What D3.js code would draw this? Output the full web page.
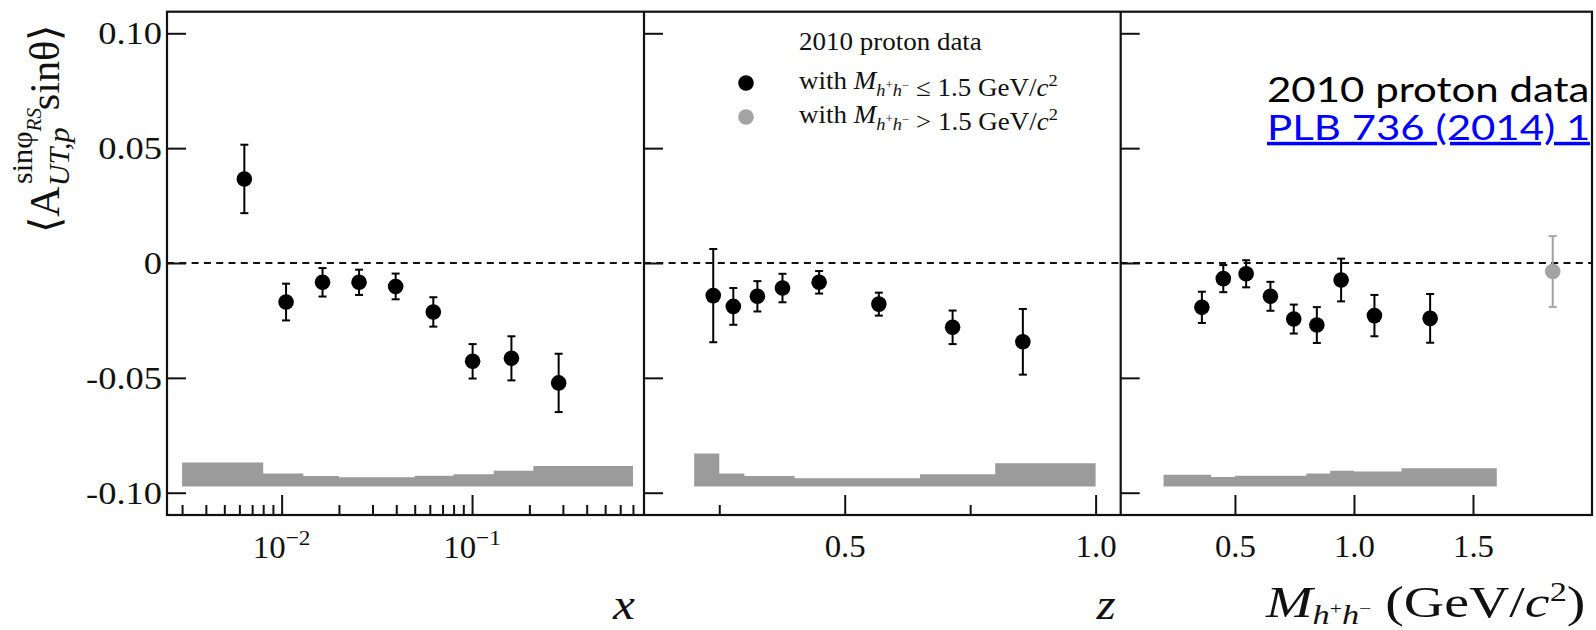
<!DOCTYPE html>
<html><head><meta charset="utf-8">
<script src="https://cdn.jsdelivr.net/npm/d3@7"></script>
<style>
html,body{margin:0;padding:0;background:#fff;}
svg{display:block;}
</style></head>
<body>
<script>
// ---------------- DATA ----------------
// Panel 1: x-binning
const xBinCenters = [0.00637, 0.01055, 0.0164, 0.0255, 0.0397, 0.0626, 0.1007, 0.161, 0.285];
const xAsym       = [0.0366, -0.0170, -0.0084, -0.0084, -0.0102, -0.0213, -0.0428, -0.0415, -0.0522];
const xStatErr    = [0.0149, 0.0080, 0.0062, 0.0055, 0.0056, 0.0064, 0.0075, 0.0096, 0.0127];
const xBandEdges  = [0.003, 0.008, 0.013, 0.020, 0.032, 0.050, 0.080, 0.130, 0.210, 0.700];
const xSysErr     = [0.0105, 0.0057, 0.0046, 0.0040, 0.0040, 0.0047, 0.0053, 0.0069, 0.0089];
// Panel 2: z-binning
const zBinCenters = [0.238, 0.278, 0.326, 0.376, 0.449, 0.568, 0.715, 0.855];
const zAsym       = [-0.0142, -0.0189, -0.0145, -0.0109, -0.0084, -0.0179, -0.0280, -0.0343];
const zStatErr    = [0.0203, 0.0080, 0.0066, 0.0062, 0.0049, 0.0050, 0.0073, 0.0143];
const zBandEdges  = [0.2, 0.25, 0.3, 0.4, 0.65, 0.8, 1.0];
const zSysErr     = [0.0144, 0.0057, 0.0046, 0.0036, 0.0053, 0.0101];
// Panel 3: invariant mass binning
const mBinCenters = [0.361, 0.451, 0.547, 0.649, 0.747, 0.844, 0.946, 1.086, 1.320];
const mAsym       = [-0.0193, -0.0068, -0.0047, -0.0145, -0.0244, -0.0270, -0.0074, -0.0229, -0.0241];
const mStatErr    = [0.0068, 0.0059, 0.0059, 0.0063, 0.0063, 0.0078, 0.0093, 0.0090, 0.0106];
const mHighCenters = [1.835];
const mHighAsym    = [-0.0037];
const mHighStatErr = [0.0154];
const mBandEdges  = [0.2, 0.4, 0.5, 0.8, 0.9, 1.0, 1.2, 1.6];
const mSysErr     = [0.0051, 0.0041, 0.0047, 0.0057, 0.0069, 0.0065, 0.0080];
const sysBaseline = -0.0973;
// Axes
const yTicks = [-0.10, -0.05, 0, 0.05, 0.10];
const xMajorTicks = [0.01, 0.1];
const xMinorTicks = [0.003,0.004,0.005,0.006,0.007,0.008,0.009,0.02,0.03,0.04,0.05,0.06,0.07,0.08,0.09,0.2,0.3,0.4,0.5,0.6,0.7];
const zMajorTicks = [0.5, 1.0];
const zMinorTicks = [0.25, 0.75];
const mMajorTicks = [0.5, 1.0, 1.5];

// ---------------- LAYOUT ----------------
const W = 1596, H = 630;
const SERIF = "'Liberation Serif','Times New Roman',serif";
const SANS = "Lato,'Open Sans',sans-serif";
const svg = d3.select("body").append("svg").attr("width", W).attr("height", H);

// horizontally stretched text helper
function stext(parent, x, yy, sx, size) {
  return parent.append("text").attr("transform", `translate(${x},${yy}) scale(${sx},1)`)
    .attr("font-size", size);
}

const yTop = 11.7, yBot = 515;
const y = d3.scaleLinear().domain([-0.1097, 0.1094]).range([yBot, yTop]);

const panels = [
  {x: d3.scaleLog().domain([0.0025, 0.8]).range([167, 644]),
   c: xBinCenters, a: xAsym, e: xStatErr, edges: xBandEdges, sys: xSysErr,
   major: xMajorTicks, minor: xMinorTicks},
  {x: d3.scaleLinear().domain([0.1, 1.05]).range([644, 1120.7]),
   c: zBinCenters, a: zAsym, e: zStatErr, edges: zBandEdges, sys: zSysErr,
   major: zMajorTicks, minor: zMinorTicks},
  {x: d3.scaleLinear().domain([0.02, 2.0]).range([1120.7, 1592]),
   c: mBinCenters, a: mAsym, e: mStatErr, edges: mBandEdges, sys: mSysErr,
   major: mMajorTicks, minor: []}
];

const TICKF = 31, TICKSX = 1.06;
const YTICKF = 32, YTICKSX = 1.14;

panels.forEach((p, i) => {
  const g = svg.append("g");
  const [x0, x1] = p.x.range();
  // systematic bands
  const area = d3.area().curve(d3.curveStepAfter)
    .x(d => p.x(d.xv)).y0(y(sysBaseline)).y1(d => y(sysBaseline + d.s));
  const pts = p.sys.map((s, k) => ({xv: p.edges[k], s}));
  pts.push({xv: p.edges[p.edges.length-1], s: p.sys[p.sys.length-1]});
  g.append("path").attr("d", area(pts)).attr("fill", "#9b9b9b");
  // zero dashed line
  g.append("line").attr("x1", x0).attr("x2", x1).attr("y1", y(0)).attr("y2", y(0))
    .attr("stroke", "#111").attr("stroke-width", 2).attr("stroke-dasharray", "7,5.3");
  // y axis ticks
  const ya = g.append("g").attr("transform", `translate(${x0},0)`)
    .call(d3.axisLeft(y).tickValues(yTicks).tickSize(-19).tickPadding(5)
      .tickFormat(i === 0 ? (v => v === 0 ? "0" : (v < 0 ? "-" : "") + Math.abs(v).toFixed(2)) : ""));
  ya.select(".domain").remove();
  ya.selectAll("line").attr("stroke", "#111").attr("stroke-width", 2);
  ya.selectAll("text").attr("font-family", SERIF).attr("font-size", YTICKF).attr("fill", "#111")
    .attr("x", -5 / YTICKSX).attr("dy", "0.33em").attr("transform", `scale(${YTICKSX},1)`);
  // x axis ticks
  const xaM = g.append("g").attr("transform", `translate(0,${yBot})`)
    .call(d3.axisBottom(p.x).tickValues(p.major).tickSize(-20).tickPadding(20)
      .tickFormat(i === 0 ? "" : d3.format(".1f")));
  xaM.select(".domain").remove();
  xaM.selectAll("line").attr("stroke", "#111").attr("stroke-width", 2);
  xaM.selectAll("text").attr("font-family", SERIF).attr("font-size", TICKF).attr("fill", "#111")
    .attr("transform", `scale(${TICKSX},1)`);
  if (p.minor.length) {
    const xam = g.append("g").attr("transform", `translate(0,${yBot})`)
      .call(d3.axisBottom(p.x).tickValues(p.minor).tickSize(-10).tickFormat(""));
    xam.select(".domain").remove();
    xam.selectAll("line").attr("stroke", "#111").attr("stroke-width", 2);
  }
  if (i === 0) {
    p.major.forEach(v => {
      const t = stext(g, p.x(v), 558, TICKSX, TICKF)
        .attr("text-anchor", "middle").attr("font-family", SERIF).attr("fill", "#111");
      t.append("tspan").text("10");
      t.append("tspan").attr("dy", -13).attr("font-size", 22).text("−" + Math.round(-Math.log10(v)));
    });
  }
  // error bars + markers
  const drawPts = (cs, as, es, color) => {
    cs.forEach((c, k) => {
      const cx = p.x(c);
      g.append("line").attr("x1", cx).attr("x2", cx).attr("y1", y(as[k] + es[k])).attr("y2", y(as[k] - es[k]))
        .attr("stroke", color).attr("stroke-width", 2);
      [as[k] + es[k], as[k] - es[k]].forEach(v => {
        g.append("line").attr("x1", cx - 4).attr("x2", cx + 4).attr("y1", y(v)).attr("y2", y(v))
          .attr("stroke", color).attr("stroke-width", 2);
      });
      g.append("circle").attr("cx", cx).attr("cy", y(as[k])).attr("r", 7.8).attr("fill", color);
    });
  };
  drawPts(p.c, p.a, p.e, "#000");
  if (i === 2) drawPts(mHighCenters, mHighAsym, mHighStatErr, "#a3a3a3");
});

// frame
const frame = svg.append("g").attr("fill", "none").attr("stroke", "#111").attr("stroke-width", 2.2);
frame.append("rect").attr("x", 167).attr("y", yTop).attr("width", 1592 - 167).attr("height", yBot - yTop);
frame.append("line").attr("x1", 644).attr("x2", 644).attr("y1", yTop).attr("y2", yBot);
frame.append("line").attr("x1", 1120.7).attr("x2", 1120.7).attr("y1", yTop).attr("y2", yBot);

// legend
const LGF = 25, LGSX = 1.08;
const lg = svg.append("g").attr("font-family", SERIF).attr("fill", "#111");
stext(lg, 799, 50, LGSX, LGF).text("2010 proton data");
const legLine = (yy, sym, col) => {
  lg.append("circle").attr("cx", 746).attr("cy", yy - 6).attr("r", 7.8).attr("fill", col);
  const t = stext(lg, 799, yy, LGSX, LGF);
  t.append("tspan").text("with ");
  t.append("tspan").attr("font-style", "italic").text("M");
  t.append("tspan").attr("font-style", "italic").attr("font-size", 17).attr("dy", 7).text("h");
  t.append("tspan").attr("font-size", 12).attr("dy", -7).text("+");
  t.append("tspan").attr("font-style", "italic").attr("font-size", 17).attr("dy", 7).text("h");
  t.append("tspan").attr("font-size", 12).attr("dy", -7).text("−");
  t.append("tspan").attr("dy", 7).text(" " + sym + " 1.5 GeV/");
  t.append("tspan").attr("font-style", "italic").text("c");
  t.append("tspan").attr("font-size", 17).attr("dy", -10).text("2");
};
legLine(89, "≤", "#000");
legLine(123, ">", "#a3a3a3");

// axis titles
const ATF = 44, ATSX = 1.12;
const at = svg.append("g").attr("font-family", SERIF).attr("fill", "#111");
stext(at, 624, 619, ATSX, ATF).attr("text-anchor", "middle").attr("font-style", "italic").text("x");
stext(at, 1106, 619, ATSX, ATF).attr("text-anchor", "middle").attr("font-style", "italic").text("z");
const mt = stext(at, 1266, 617, 1.27, ATF);
mt.append("tspan").attr("font-style", "italic").text("M");
mt.append("tspan").attr("font-style", "italic").attr("font-size", 27).attr("dy", 7).text("h");
mt.append("tspan").attr("font-size", 17).attr("dy", -10).text("+");
mt.append("tspan").attr("font-style", "italic").attr("font-size", 27).attr("dy", 10).text("h");
mt.append("tspan").attr("font-size", 17).attr("dy", -10).text("−");
mt.append("tspan").attr("dy", 3).text("  (GeV/");
mt.append("tspan").attr("font-style", "italic").text("c");
mt.append("tspan").attr("font-size", 27).attr("dy", -16).text("2");
mt.append("tspan").attr("dy", 16).text(")");

// y axis title (rotated)
const yl = svg.append("g").attr("transform", "translate(59,233) rotate(-90) scale(1.115)")
  .attr("font-family", SERIF).attr("fill", "#111");
yl.append("text").attr("x", 0).attr("y", 0).attr("font-size", 38).text("⟨A");
yl.append("text").attr("x", 42).attr("y", 9).attr("font-size", 27).attr("font-style", "italic").text("UT,p");
const sup = yl.append("text").attr("x", 44).attr("y", -24).attr("font-size", 27);
sup.append("tspan").text("sinφ");
sup.append("tspan").attr("font-size", 19).attr("font-style", "italic").attr("dy", 8).text("RS");
yl.append("text").attr("x", 110).attr("y", 0).attr("font-size", 38).text("sinθ⟩");

// overlay annotation (clipped at the right edge)
svg.append("clipPath").attr("id", "clipR").append("rect").attr("x", 0).attr("y", 0).attr("width", 1590).attr("height", H);
const ov = svg.append("g").attr("clip-path", "url(#clipR)").attr("font-family", SANS);
stext(ov, 1267, 102, 1.2, 35).attr("fill", "#000").text("2010 proton data");
stext(ov, 1267, 140, 1.2, 35).attr("fill", "#0000ff").attr("text-decoration", "underline")
  .text("PLB 736 (2014) 124");
</script>
</body></html>
